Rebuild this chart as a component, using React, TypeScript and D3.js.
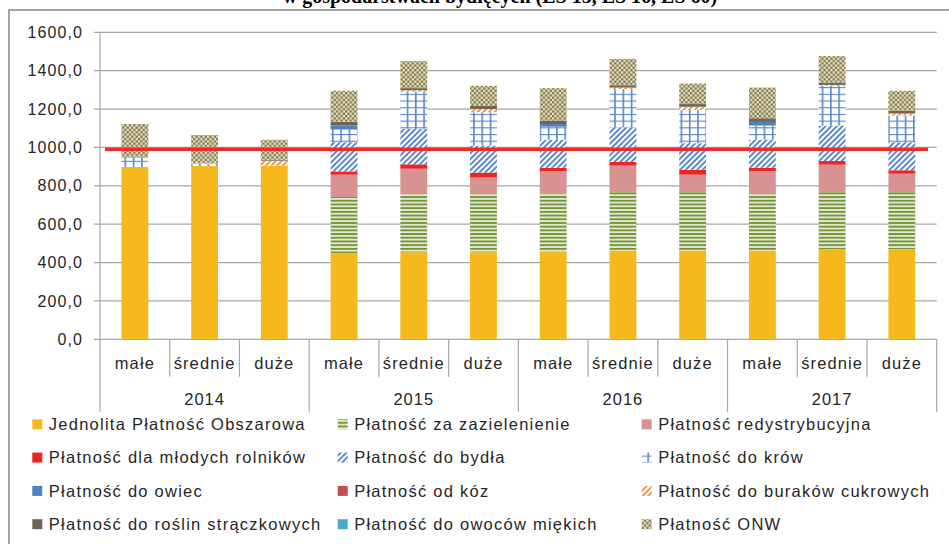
import React from "react";
import * as d3 from "d3";

const categories = ["małe", "średnie", "duże", "małe", "średnie", "duże", "małe", "średnie", "duże", "małe", "średnie", "duże"];
const years = ["2014", "2015", "2016", "2017"];
const yTicks = [0, 200, 400, 600, 800, 1000, 1200, 1400, 1600];

const jpo = [898, 903, 905, 449, 454, 454, 457, 463, 463, 463, 470, 470];
const zazielenienie = [0, 0, 0, 293, 302, 302, 303, 305, 305, 293, 298, 298];
const redystrybucyjna = [0, 0, 0, 116, 133, 87, 117, 137, 90, 121, 142, 95];
const mlodzi = [0, 0, 0, 17, 23, 26, 17, 19, 26, 17, 19, 18];
const bydlo = [0, 0, 0, 152, 185, 141, 146, 181, 138, 147, 185, 146];
const krowy = [50, 10, 0, 66, 193, 173, 68, 199, 173, 73, 207, 139];
const owce = [0, 0, 0, 21, 0, 0, 14, 0, 0, 19, 0, 0];
const kozy = [0, 0, 0, 0, 0, 0, 0, 0, 0, 0, 0, 0];
const buraki = [0, 5, 26, 0, 8, 17, 0, 8, 17, 0, 5, 11];
const straczkowe = [4, 2, 5, 20, 11, 17, 18, 12, 14, 19, 12, 14];
const owoce = [0, 0, 0, 0, 0, 0, 0, 0, 0, 0, 0, 0];
const onw = [170, 145, 104, 161, 141, 104, 169, 137, 107, 160, 138, 104];
const threshold = 990;

const seriesNames = [
  "Jednolita Płatność Obszarowa",
  "Płatność za zazielenienie",
  "Płatność redystrybucyjna",
  "Płatność dla młodych rolników",
  "Płatność do bydła",
  "Płatność do krów",
  "Płatność do owiec",
  "Płatność od kóz",
  "Płatność do buraków cukrowych",
  "Płatność do roślin strączkowych",
  "Płatność do owoców miękich",
  "Płatność ONW",
];
const seriesValues = [jpo, zazielenienie, redystrybucyjna, mlodzi, bydlo, krowy, owce, kozy, buraki, straczkowe, owoce, onw];
const fills = [
  "#F5B91E",
  "url(#p-zaz)",
  "#D69392",
  "#EE2424",
  "url(#p-bydlo)",
  "url(#p-krowy)",
  "#4F81BD",
  "#C0504D",
  "url(#p-buraki)",
  "#6F6552",
  "#4BACC6",
  "url(#p-onw)",
];

const W = 949;
const H = 544;
const plotL = 100;
const plotR = 936.7;
const y0 = 339.3;
const y1600 = 32.3;
const FONT = "'Liberation Sans', Arial, sans-serif";
const TXT = "#262626";

export default function App() {
  const idx = categories.map((_, i) => i);
  const x = d3.scaleBand<number>().domain(idx).range([plotL, plotR]).padding(0);
  const y = d3.scaleLinear().domain([0, 1600]).range([y0, y1600]);
  const bw = x.bandwidth() * 0.385;

  const rows = idx.map((i) => {
    const r: Record<string, number> = { i };
    seriesValues.forEach((s, k) => (r["s" + k] = s[i]));
    return r;
  });
  const stack = d3.stack<Record<string, number>>().keys(seriesValues.map((_, k) => "s" + k));
  const layers = stack(rows);

  const legendCols = [32.3, 337.7, 641.7];
  const legendRows = [424.3, 457.6, 490.9, 524.2];

  return (
    <svg width={W} height={H} style={{ position: "absolute", left: 0, top: 0 }} fontFamily={FONT}>
      <defs>
        <pattern id="p-zaz" patternUnits="userSpaceOnUse" width="4" height="3.7">
          <rect width="4" height="3.7" fill="#E4ECD4" />
          <rect width="4" height="1.9" fill="#77933C" />
        </pattern>
        <pattern id="p-bydlo" patternUnits="userSpaceOnUse" width="4" height="4" patternTransform="rotate(45)">
          <rect width="4" height="4" fill="#FFFFFF" />
          <rect width="2" height="4" fill="#5C8BC8" />
        </pattern>
        <pattern id="p-buraki" patternUnits="userSpaceOnUse" width="4" height="4" patternTransform="rotate(45)">
          <rect width="4" height="4" fill="#FFFFFF" />
          <rect width="2" height="4" fill="#F79646" />
        </pattern>
        <pattern id="p-krowy" patternUnits="userSpaceOnUse" width="8.3" height="6.7">
          <rect width="8.3" height="6.7" fill="#FFFFFF" />
          <rect width="8.3" height="1.1" fill="#5A87C5" />
          <rect width="1.6" height="6.7" fill="#5A87C5" />
        </pattern>
        <pattern id="p-onw" patternUnits="userSpaceOnUse" width="4.6" height="4.6">
          <rect width="4.6" height="4.6" fill="#E6E0C6" />
          <rect width="2.3" height="2.3" fill="#857A4A" />
          <rect x="2.3" y="2.3" width="2.3" height="2.3" fill="#857A4A" />
        </pattern>
      </defs>
      <rect width={W} height={H} fill="#FFFFFF" />
      <text x={500} y={3} textAnchor="middle" fontFamily="'Liberation Serif', 'Times New Roman', serif" fontWeight="bold" fontSize={20} fill="#000">
        w gospodarstwach bydlęcych (ES 15, ES 16, ES 60)
      </text>
      <rect x={9} y={10} width={1000} height={600} fill="none" stroke="#8C8C8C" strokeWidth={1.6} />

      {yTicks.map((t) => (
        <g key={t}>
          <line x1={94} x2={plotR} y1={y(t)} y2={y(t)} stroke="#A6A6A6" strokeWidth={1.2} />
          <text x={83} y={y(t)} dy="0.35em" textAnchor="end" fontSize={16} letterSpacing={1.1} fill={TXT}>
            {t.toFixed(1).replace(".", ",")}
          </text>
        </g>
      ))}
      <line x1={plotL} x2={plotL} y1={y1600} y2={411.7} stroke="#A6A6A6" strokeWidth={1.2} />

      {layers.map((layer, k) => (
        <g key={k} fill={fills[k]}>
          {layer.map((d, i) =>
            d[1] - d[0] > 0 ? (
              <rect
                key={i}
                x={(x(i) as number) + (x.bandwidth() - bw) / 2}
                y={y(d[1])}
                width={bw}
                height={y(d[0]) - y(d[1])}
              />
            ) : null
          )}
        </g>
      ))}

      <line x1={105} x2={928} y1={y(threshold)} y2={y(threshold)} stroke="#EE2A2A" strokeWidth={3.5} />

      {idx.map((i) => (
        <g key={i}>
          <line
            x1={(x(i) as number) + x.bandwidth()}
            x2={(x(i) as number) + x.bandwidth()}
            y1={y0}
            y2={(i + 1) % 3 === 0 ? 411.7 : 376.7}
            stroke="#A6A6A6"
            strokeWidth={1.2}
          />
          <text x={(x(i) as number) + x.bandwidth() / 2} y={369} textAnchor="middle" fontSize={16.5} letterSpacing={1.1} fill={TXT}>
            {categories[i]}
          </text>
        </g>
      ))}
      {years.map((yr, g) => (
        <text key={yr} x={(x(g * 3) as number) + x.bandwidth() * 1.5} y={405} textAnchor="middle" fontSize={16.5} letterSpacing={1} fill={TXT}>
          {yr}
        </text>
      ))}

      {seriesNames.map((name, k) => {
        const col = k % 3;
        const row = Math.floor(k / 3);
        const lx = legendCols[col];
        const ly = legendRows[row];
        return (
          <g key={name}>
            <rect x={lx} y={ly - 5} width={10} height={10} fill={fills[k]} />
            <text x={lx + 16.5} y={ly + 5.7} fontSize={16.5} letterSpacing={1.25} fill={TXT}>
              {name}
            </text>
          </g>
        );
      })}
    </svg>
  );
}
